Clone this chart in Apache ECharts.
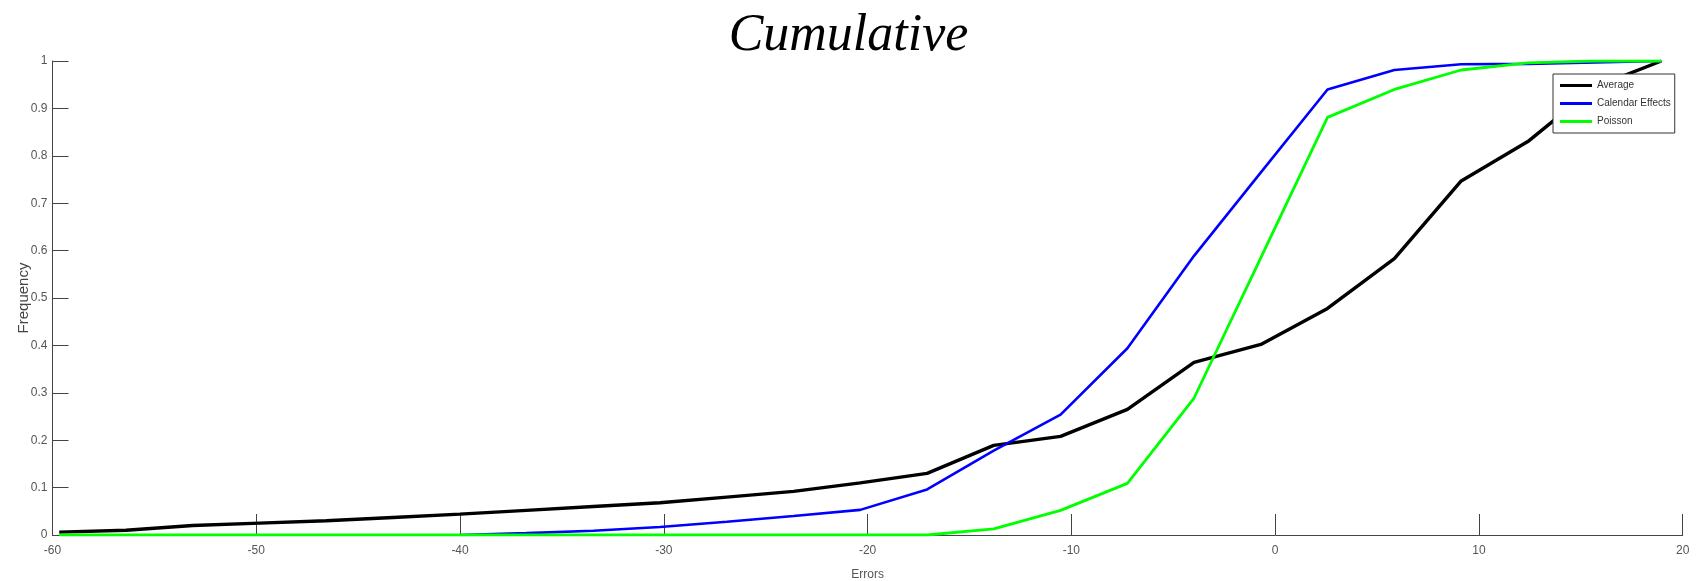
<!DOCTYPE html>
<html>
<head>
<meta charset="utf-8">
<script src="https://cdn.jsdelivr.net/npm/echarts@6/dist/echarts.min.js"></script>
<style>
html,body{margin:0;padding:0;background:#fff;}
#chart{width:1697px;height:581px;}
</style>
</head>
<body>
<div id="chart"></div>
<script>
// Bin centres (Errors)
const errors = [-59.67, -56.39, -53.12, -49.84, -46.57, -43.29, -40.01, -36.74, -33.46, -30.19,
                -26.91, -23.63, -20.36, -17.08, -13.81, -10.53, -7.25, -3.98, -0.70, 2.57,
                5.85, 9.13, 12.40, 15.68, 18.95];
// Cumulative frequencies
const average  = [0.006, 0.010, 0.020, 0.025, 0.030, 0.037, 0.044, 0.052, 0.060, 0.068,
                  0.080, 0.092, 0.110, 0.130, 0.189, 0.208, 0.265, 0.364, 0.402, 0.478,
                  0.583, 0.747, 0.830, 0.945, 1.000];
const calendar = [null, null, null, null, null, null, 0.000, 0.004, 0.009, 0.017,
                  0.028, 0.040, 0.053, 0.096, 0.178, 0.254, 0.394, 0.589, 0.765, 0.940,
                  0.981, 0.993, 0.994, 0.997, 1.000];
const poisson  = [0, 0, 0, 0, 0, 0, 0, 0, 0, 0,
                  0, 0, 0, 0, 0.013, 0.052, 0.109, 0.289, 0.585, 0.881,
                  0.940, 0.981, 0.996, 1.000, 1.000];
const seriesNames = ['Average', 'Calendar Effects', 'Poisson'];
const xTicks = [-60, -50, -40, -30, -20, -10, 0, 10, 20];

function pairs(ys){ return errors.map((x,i)=>[x, ys[i]]); }

const sans = "'Liberation Sans',Arial,sans-serif";
const chart = echarts.init(document.getElementById('chart'), null, {renderer:'canvas'});
chart.setOption({
  animation: false,
  backgroundColor: '#fff',
  title: {
    text: 'Cumulative',
    left: 'center',
    top: 5,
    textStyle: {fontFamily: "'Liberation Serif','Times New Roman',serif", fontStyle: 'italic', fontWeight: 'normal', fontSize: 52, color: '#000'}
  },
  legend: {
    orient: 'vertical',
    left: 1553, top: 74,
    padding: [5, 4, 5, 7],
    backgroundColor: '#fff',
    borderColor: '#333', borderWidth: 1, borderRadius: 0,
    itemWidth: 32, itemHeight: 3, itemGap: 5,
    icon: 'rect',
    textStyle: {fontFamily: sans, fontSize: 10, color: '#333', lineHeight: 13},
    data: seriesNames
  },
  grid: {left: 52.5, right: 14.3, top: 61, bottom: 46, containLabel: false, outerBoundsMode: 'none'},
  xAxis: {
    type: 'value', min: xTicks[0], max: xTicks[xTicks.length-1], interval: 10,
    name: 'Errors', nameLocation: 'middle', nameGap: 34, nameMoveOverlap: false,
    nameTextStyle: {fontFamily: sans, fontSize: 12, color: '#555'},
    axisLine: {onZero: false, lineStyle: {color: '#444', width: 1}},
    axisTick: {inside: true, length: 21, lineStyle: {color: '#444'}},
    axisLabel: {fontFamily: sans, fontSize: 12, color: '#555', margin: 10},
    splitLine: {show: false}
  },
  yAxis: {
    type: 'value', min: 0, max: 1, interval: 0.1,
    name: 'Frequency', nameLocation: 'middle', nameGap: 21, nameMoveOverlap: false,
    nameTextStyle: {fontFamily: sans, fontSize: 15, color: '#444'},
    axisLine: {show: true, onZero: false, lineStyle: {color: '#444', width: 1}},
    axisTick: {show: true, inside: true, length: 16, lineStyle: {color: '#444'}},
    axisLabel: {fontFamily: sans, fontSize: 12, color: '#555', margin: 5},
    splitLine: {show: false}
  },
  series: [
    {name: seriesNames[0], type: 'line', data: pairs(average), showSymbol: false, symbol: 'none',
     itemStyle: {color: '#000000'}, lineStyle: {color: '#000000', width: 3.4}, z: 2},
    {name: seriesNames[1], type: 'line', data: pairs(calendar), showSymbol: false, symbol: 'none',
     itemStyle: {color: '#0000ff'}, lineStyle: {color: '#0000ff', width: 2.6}, z: 3},
    {name: seriesNames[2], type: 'line', data: pairs(poisson), showSymbol: false, symbol: 'none',
     itemStyle: {color: '#00ff00'}, lineStyle: {color: '#00ff00', width: 2.8}, z: 4}
  ]
});
</script>
</body>
</html>
